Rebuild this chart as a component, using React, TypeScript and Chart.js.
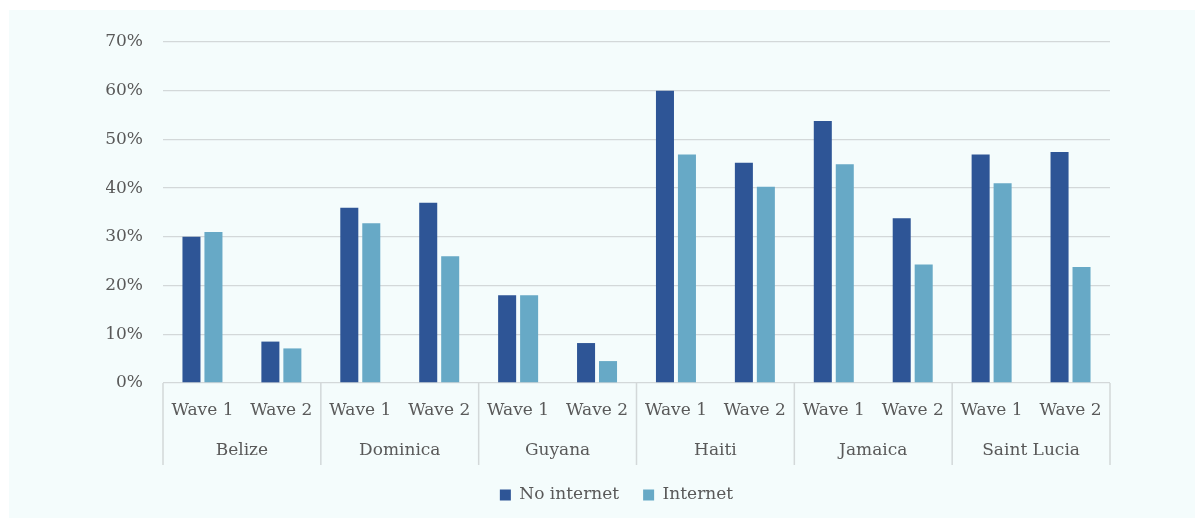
import React, { useEffect, useRef } from "react";
import { Chart, registerables } from "chart.js";

Chart.register(...registerables);

const waves = [
  "Wave 1", "Wave 2", "Wave 1", "Wave 2", "Wave 1", "Wave 2",
  "Wave 1", "Wave 2", "Wave 1", "Wave 2", "Wave 1", "Wave 2",
];
const countries = ["Belize", "Dominica", "Guyana", "Haiti", "Jamaica", "Saint Lucia"];
const noInternet = [30, 8.5, 36, 37, 18, 8.2, 60, 45.2, 53.8, 33.8, 46.9, 47.4];
const internet = [31, 7.1, 32.8, 26, 18, 4.5, 46.9, 40.3, 44.9, 24.3, 41, 23.8];
const seriesNames = ["No internet", "Internet"];
const yMin = 0;
const yMax = 70;
const yStep = 10;

const DARK = "#2E5596";
const LIGHT = "#67A9C6";
const TEXT = "#595959";
const GRID = "#D3D8D9";
const BG = "#F4FCFC";
const FONT = "'DejaVu Serif', serif";
const FONT_SIZE = 17;
const LEGEND_SHIFT = 8.5;

const countryPlugin = {
  id: "countryLabels",
  afterLayout(chart: any) {
    const lg = chart.legend;
    if (lg) {
      lg.left += LEGEND_SHIFT;
      lg.right += LEGEND_SHIFT;
    }
  },
  afterDraw(chart: any) {
    const { ctx, chartArea, scales } = chart;
    const x = scales.x;
    const half = (x.getPixelForValue(1) - x.getPixelForValue(0)) / 2;
    ctx.save();
    ctx.strokeStyle = GRID;
    ctx.lineWidth = 1.5;
    for (let k = 0; k <= countries.length; k++) {
      const px =
        k < countries.length
          ? x.getPixelForValue(2 * k) - half
          : x.getPixelForValue(2 * k - 1) + half;
      ctx.beginPath();
      ctx.moveTo(px, chartArea.bottom);
      ctx.lineTo(px, chartArea.bottom + 82);
      ctx.stroke();
    }
    ctx.fillStyle = TEXT;
    ctx.font = `${FONT_SIZE}px ${FONT}`;
    ctx.textAlign = "center";
    ctx.textBaseline = "middle";
    countries.forEach((c, k) => {
      const cx = (x.getPixelForValue(2 * k) + x.getPixelForValue(2 * k + 1)) / 2;
      ctx.fillText(c, cx, chartArea.bottom + 68);
    });
    ctx.restore();
  },
};

export default function App() {
  const ref = useRef<HTMLCanvasElement | null>(null);

  useEffect(() => {
    if (!ref.current) return;
    const chart = new Chart(ref.current, {
      type: "bar",
      data: {
        labels: waves,
        datasets: [
          {
            label: seriesNames[0],
            data: noInternet,
            backgroundColor: DARK,
            borderWidth: 0,
            barPercentage: 0.82,
            categoryPercentage: 0.557,
          },
          {
            label: seriesNames[1],
            data: internet,
            backgroundColor: LIGHT,
            borderWidth: 0,
            barPercentage: 0.82,
            categoryPercentage: 0.557,
          },
        ],
      },
      options: {
        responsive: false,
        animation: false,
        layout: { padding: { left: 97, right: 85, top: 32, bottom: 4.5 } },
        plugins: {
          tooltip: { enabled: false },
          legend: {
            position: "bottom",
            labels: {
              boxWidth: 11,
              boxHeight: 11,
              padding: 24,
              color: TEXT,
              font: { family: FONT, size: FONT_SIZE },
            },
          },
        },
        scales: {
          x: {
            offset: true,
            grid: { display: false, drawTicks: false },
            border: { display: false },
            ticks: {
              autoSkip: false,
              maxRotation: 0,
              minRotation: 0,
              padding: 17,
              color: TEXT,
              font: { family: FONT, size: FONT_SIZE },
            },
            afterFit(scale: any) {
              scale.height = 79.5;
            },
          },
          y: {
            min: yMin,
            max: yMax,
            grid: { color: GRID, lineWidth: 1.3, drawTicks: false },
            border: { display: false },
            ticks: {
              stepSize: yStep,
              padding: 20,
              color: TEXT,
              font: { family: FONT, size: FONT_SIZE },
              callback: (v: any) => `${v}%`,
            },
            afterFit(scale: any) {
              scale.width = 57;
            },
          },
        },
      },
      plugins: [countryPlugin],
    });
    return () => chart.destroy();
  }, []);

  return (
    <div
      style={{
        position: "absolute",
        left: 9,
        top: 10,
        width: 1186,
        height: 508,
        background: BG,
        overflow: "hidden",
      }}
    >
      <canvas ref={ref} width={1186} height={508} style={{ display: "block" }} />
    </div>
  );
}
